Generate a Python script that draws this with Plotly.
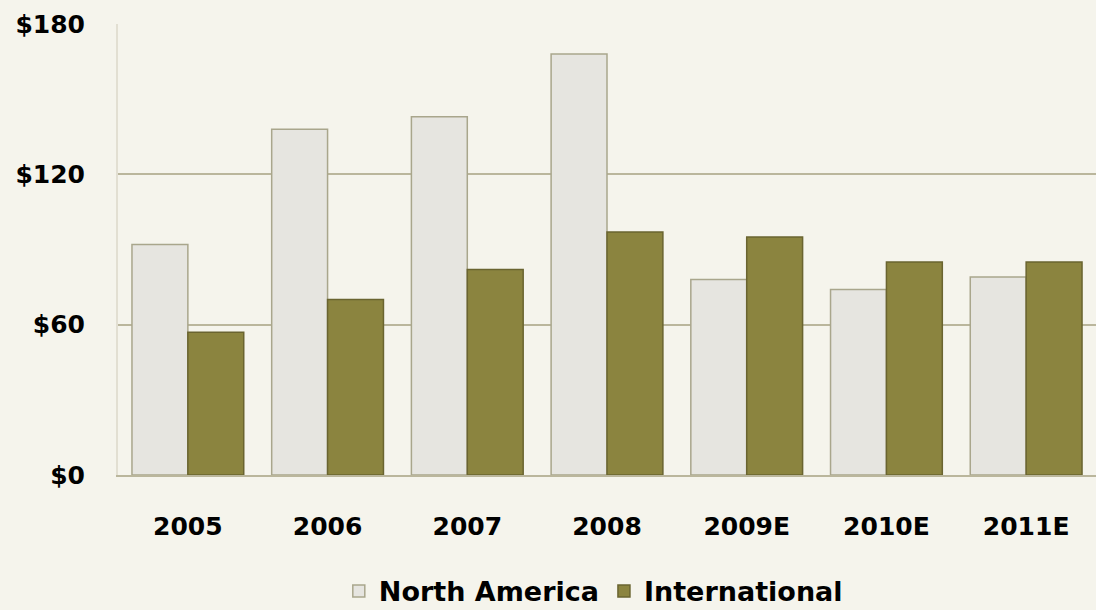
import plotly.graph_objects as go

years = ["2005", "2006", "2007", "2008", "2009E", "2010E", "2011E"]
north_america = [92, 138, 143, 168, 78, 74, 79]
international = [57, 70, 82, 97, 95, 85, 85]
y_ticks = [0, 60, 120, 180]
y_tick_labels = ["$0", "$60", "$120", "$180"]

bg = "#F5F4EC"
font_family = "'DejaVu Sans', sans-serif"

fig = go.Figure()
fig.add_trace(go.Bar(
    x=years, y=north_america, name="North America",
    marker=dict(color="#E6E5E0", line=dict(color="#A9A68C", width=1.5)),
))
fig.add_trace(go.Bar(
    x=years, y=international, name="International",
    marker=dict(color="#8B843F", line=dict(color="#6A6430", width=1.5)),
))

fig.update_layout(
    width=1096, height=610,
    paper_bgcolor=bg, plot_bgcolor=bg,
    margin=dict(l=118, r=0, t=24, b=135, autoexpand=False),
    barmode="group", bargap=0.2, bargroupgap=0,
    font=dict(family=font_family, color="#000000"),
    showlegend=True,
    legend=dict(
        orientation="h", x=0.486, xanchor="center", y=-0.258, yanchor="middle",
        font=dict(size=27, family=font_family, weight="bold"),
        itemwidth=30, traceorder="normal", bgcolor="rgba(0,0,0,0)",
    ),
)
fig.update_xaxes(
    showgrid=False, showline=True, linecolor="#BAB69C", linewidth=2,
    tickfont=dict(size=25, weight="bold"), ticks="", ticklabelstandoff=28,
)
fig.update_yaxes(
    range=[0, 180], tickvals=y_ticks, ticktext=y_tick_labels,
    showgrid=True, gridcolor="#BAB69C", gridwidth=2,
    showline=True, linecolor="#E2DFD2", linewidth=2,
    zeroline=False,
    tickfont=dict(size=25, weight="bold"), ticks="", ticklabelstandoff=26,
)

post_js = (
    "document.documentElement.style.margin='0';"
    "document.documentElement.style.overflow='hidden';"
    "document.body.style.margin='0';"
    "document.body.style.background='" + bg + "';"
)

fig.write_html("out.html", post_script=post_js, config={"displayModeBar": False})
